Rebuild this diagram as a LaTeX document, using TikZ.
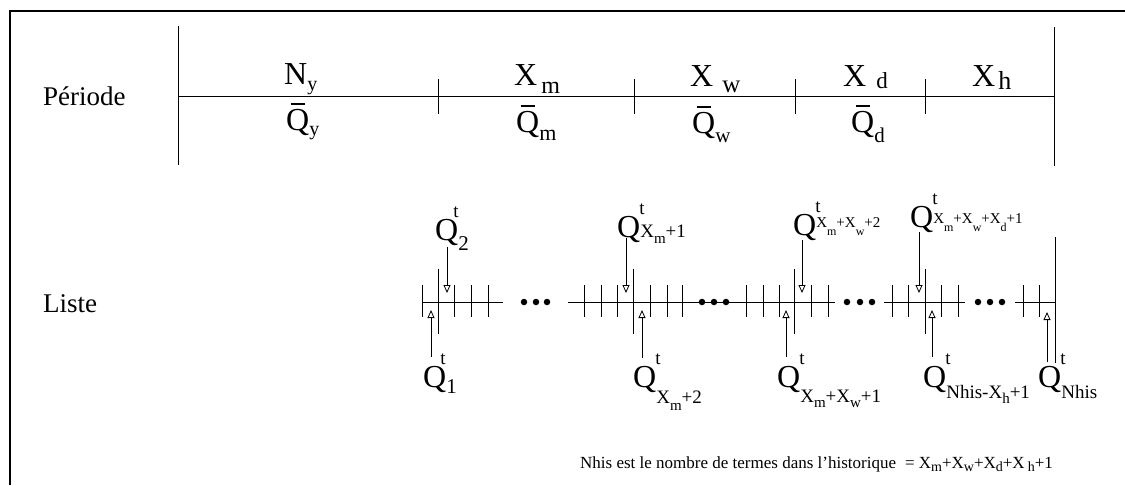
\documentclass[tikz,border=0pt]{standalone}
\usepackage{fontspec}
\setmainfont{Liberation Serif}
\usetikzlibrary{arrows.meta}
\newcommand\fs[1]{\fontsize{#1}{#1}\selectfont}
\newcommand\lo[3]{\raisebox{-#1pt}{\fs{#2}#3}}
\newcommand\hi[3]{\raisebox{#1pt}{\fs{#2}#3}}
\newcommand\qbar{\rlap{\hbox to 0.722em{\hss\raisebox{0.79em}{\rule{0.45em}{1.5pt}}\hss}}Q}
\newcommand\Qt[2][1]{Q\rlap{\kern-#1pt\raisebox{23pt}{\fs{19}t}}#2}
\tikzset{
  frame/.style={line width=2pt},
  axis/.style={line width=0.8pt},
  tick/.style={line width=0.9pt},
  lbl/.style={inner sep=0pt, anchor=base west},
  big/.style={lbl, font=\fs{32}},
  word/.style={lbl, font=\fs{27}},
  foot/.style={lbl, font=\fs{17}},
  arr/.style={line width=0.8pt, -{Triangle[open, length=8pt, width=7pt]}},
  dot/.style={circle, fill=black, inner sep=0pt, minimum size=6.5pt}
}
\begin{document}
\begin{tikzpicture}[x=1pt,y=-1pt]
\useasboundingbox (0,0) rectangle (1125,485);
% frame
\draw[frame] (10,485) -- (10,11) -- (1125,11);

% ---------- Periode row ----------
\node[word] (periode) at (43,105) {Période};
\draw[tick] (178,26) -- (178,165);
\draw[axis] (178,96) -- (1054,96);
\foreach \x in {438,634,795,925} \draw[tick] (\x,79) -- (\x,114);
\draw[tick] (1054,27) -- (1054,166);

\node[big] (ny) at (284,84) {N\lo{6}{20}{y}};
\node[big] (xm) at (514,85) {X\hspace{4pt}\lo{8}{24}{m}};
\node[big] (xw) at (690,86) {X\hspace{9pt}\lo{6}{25}{w}};
\node[big] (xd) at (843,86) {X\hspace{10pt}\lo{2}{23}{d}};
\node[big] (xh) at (972,86) {X\hspace{3pt}\lo{3}{26}{h}};

\node[big] (qy) at (286,130) {\qbar\lo{5}{20}{y}};
\node[big] (qm) at (516,132) {\qbar\lo{8}{22}{m}};
\node[big] (qw) at (692,133) {\qbar\lo{9}{21}{w}};
\node[big] (qd) at (851,132) {\qbar\lo{10}{21}{d}};

% ---------- Liste row ----------
\node[word] (liste) at (43,312) {Liste};
\draw[axis] (422,302) -- (503,302);
\draw[axis] (568,302) -- (835,302);
\draw[axis] (884,302) -- (965,302);
\draw[axis] (1015,302) -- (1055,302);
\foreach \x in {422,454,471,488, 584,601,617,650,667,682, 746,763,779,811,828, 892,908,941,958, 1023,1039}
  \draw[tick] (\x,285) -- (\x,317);
\foreach \x in {438,633,794,925} \draw[tick] (\x,269) -- (\x,334);
\draw[tick] (1055,237) -- (1055,363);
\foreach \x [count=\i] in {524,536,547, 702,714,726, 847,860,872, 978,990,1002}
  \node[dot] (d\i) at (\x,302) {};

% labels above
\node[big] (q2) at (435,240) {\Qt[5]{\lo{10}{21}{2}}};
\node[big] (qxm1) at (617,237) {\Qt{\lo{0}{19}{X\lo{6}{15}{m}+1}}};
\node[big] (qxmxw2) at (793,235) {\Qt{\hi{8}{15}{X\lo{8}{12}{m}+X\lo{8}{12}{w}+2}}};
\node[big] (qxmxwxd1) at (910,227) {\Qt{\hi{4}{15}{X\lo{8}{12}{m}+X\lo{8}{12}{w}+X\lo{8}{12}{d}+1}}};
% labels below
\node[big] (q1) at (423,387) {\Qt[6]{\lo{6}{21}{1}}};
\node[big] (qxm2) at (633,387) {\Qt{\lo{16}{19}{X\lo{7}{15}{m}+2}}};
\node[big] (qxmxw1) at (777,387) {\Qt{\lo{15}{19}{X\lo{5}{15}{m}+X\lo{5}{15}{w}+1}}};
\node[big] (qnx) at (923,387) {\Qt{\lo{11}{19}{Nhis-X\lo{5}{15}{h}+1}}};
\node[big] (qn) at (1038,387) {\Qt{\lo{11}{19}{Nhis}}};

% arrow end points
\coordinate (a2s) at (447,247);  \coordinate (a2e) at (447,293);
\coordinate (a3s) at (626,238);  \coordinate (a3e) at (626,293);
\coordinate (a4s) at (802,240);  \coordinate (a4e) at (802,293);
\coordinate (a5s) at (919,232);  \coordinate (a5e) at (919,293);
\coordinate (b1s) at (431,357);  \coordinate (b1e) at (431,310);
\coordinate (b2s) at (642,358);  \coordinate (b2e) at (642,310);
\coordinate (b3s) at (786,357);  \coordinate (b3e) at (786,310);
\coordinate (b4s) at (932,357);  \coordinate (b4e) at (932,310);
\coordinate (b5s) at (1047,362); \coordinate (b5e) at (1047,312);
\foreach \p in {a2,a3,a4,a5,b1,b2,b3,b4,b5} \draw[arr] (\p s) -- (\p e);

% footnote
\node[foot] (note) at (580,468) {Nhis est le nombre de termes dans l'historique\hspace{9pt}= X\lo{3}{14}{m}+X\lo{3}{14}{w}+X\lo{3}{14}{d}+X\hspace{3pt}\lo{3}{14}{h}+1};
\end{tikzpicture}
\end{document}
